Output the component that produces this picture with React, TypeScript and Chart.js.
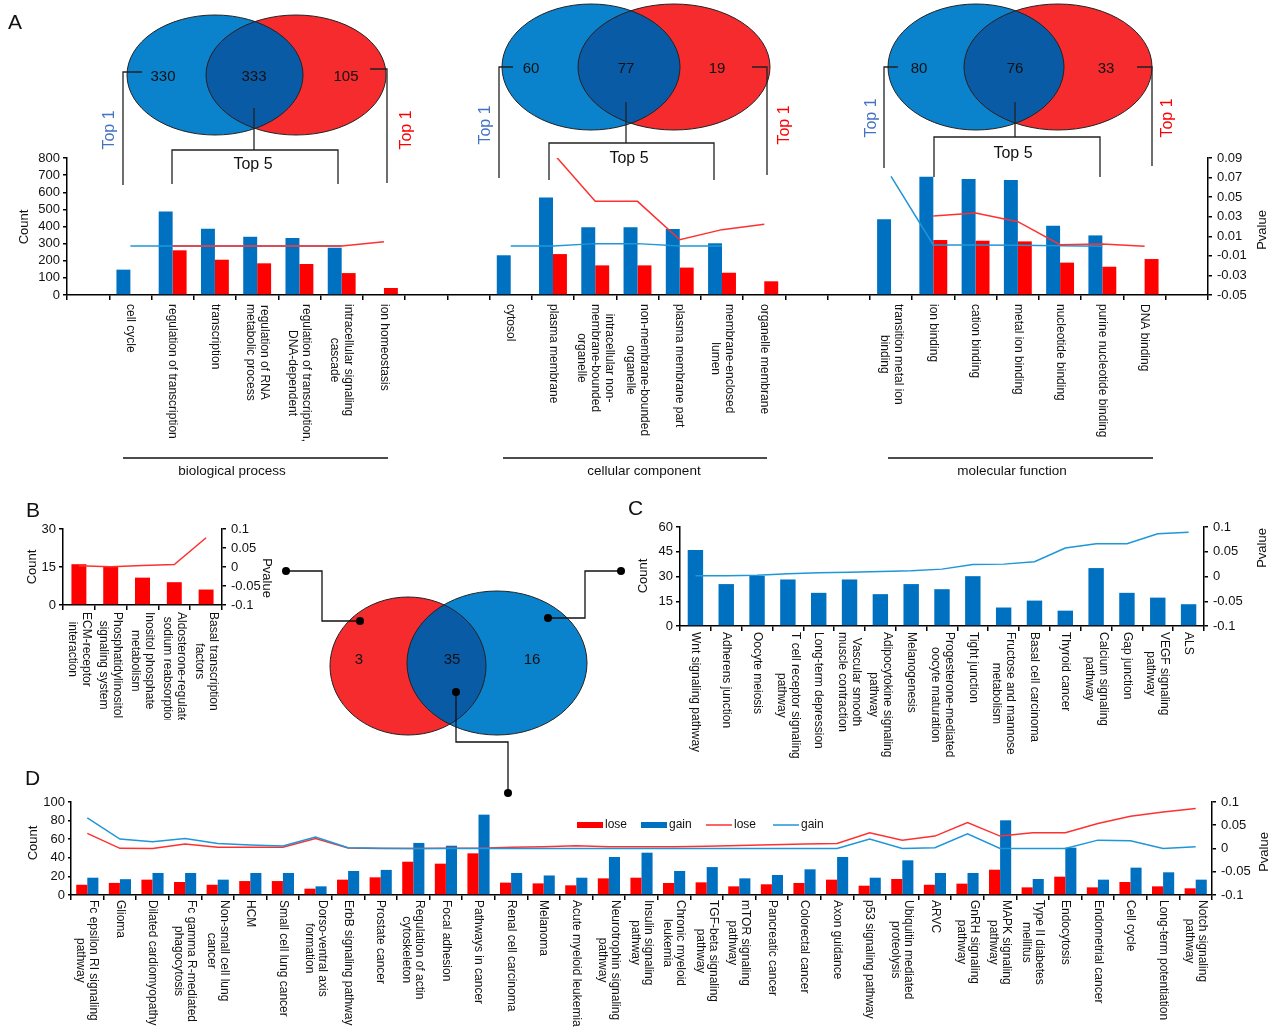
import React, { useEffect, useRef } from 'react';
import { Chart, registerables } from 'chart.js';

Chart.register(...registerables);

const FONT = '"Liberation Sans", Arial, Helvetica, sans-serif';
const BAR_BLUE = '#0070c0';
const BAR_RED = '#ff0000';
const LINE_BLUE = '#1f96d8';
const LINE_RED = '#ff3030';
const TXT = '#111';

// ---------------- Panel A (GO terms) ----------------
const aCategories: string[][] = [
  [''],
  ['cell cycle'],
  ['regulation of transcription'],
  ['transcription'],
  ['regulation of RNA', 'metabolic process'],
  ['regulation of transcription,', 'DNA-dependent'],
  ['intracellular signaling', 'cascade'],
  ['ion homeostasis'],
  [''],
  [''],
  ['cytosol'],
  ['plasma membrane'],
  ['intracellular non-', 'membrane-bounded', 'organelle'],
  ['non-membrane-bounded', 'organelle'],
  ['plasma membrane part'],
  ['membrane-enclosed', 'lumen'],
  ['organelle membrane'],
  [''],
  [''],
  ['transition metal ion', 'binding'],
  ['ion binding'],
  ['cation binding'],
  ['metal ion binding'],
  ['nucleotide binding'],
  ['purine nucleotide binding'],
  ['DNA binding'],
  [''],
];
const aGainCount = [null, 148, 488, 387, 340, 333, 276, null, null, null, 232, 570, 395, 395, 385, 302, null, null, null, 442, 691, 677, 671, 405, 348, null, null];
const aLoseCount = [null, null, 261, 206, 185, 181, 128, 41, null, null, null, 239, 173, 173, 160, 130, 80, null, null, null, 321, 317, 313, 189, 165, 210, null];
const aGainP = [null, 0.0001, 0.0001, 0.0001, 0.0001, 0.0001, 0.0001, null, null, null, 0.0001, 0.0001, 0.0025, 0.0025, 0.0001, 0.0001, null, null, null, 0.0713, 0.0011, 0.001, 0.0008, 0.0004, -0.0003, null, null];
const aLoseP = [null, null, 0.0001, 0.0001, 0.0001, 0.0001, 0.0001, 0.0044, null, null, null, 0.095, 0.0457, 0.0457, 0.0065, 0.0168, 0.0222, null, null, null, 0.0307, 0.0338, 0.0249, 0.0014, 0.0021, -0.0003, null];
const aCountAxis = [0, 800, 100];
const aPAxis = [-0.05, 0.09, 0.02];

// Venn counts
const vennBP = [330, 333, 105];
const vennCC = [60, 77, 19];
const vennMF = [80, 76, 33];
const vennKEGG = [3, 35, 16];
const sectionNames = ['biological process', 'cellular component', 'molecular function'];

// ---------------- Panel B (lose-only KEGG) ----------------
const bCategories: string[][] = [
  ['ECM-receptor', 'interaction'],
  ['Phosphatidylinositol', 'signaling system'],
  ['Inositol phosphate', 'metabolism'],
  ['Aldosterone-regulated', 'sodium reabsorption'],
  ['Basal transcription', 'factors'],
];
const bLoseCount = [16.1, 15.1, 10.8, 9.0, 6.1];
const bLoseP = [0.003, 0.0004, 0.004, 0.0066, 0.077];
const bCountAxis = [0, 30, 15];
const bPAxis = [-0.1, 0.1, 0.05];

// ---------------- Panel C (gain-only KEGG) ----------------
const cCategories: string[][] = [
  ['Wnt signaling pathway'],
  ['Adherens junction'],
  ['Oocyte meiosis'],
  ['T cell receptor signaling', 'pathway'],
  ['Long-term depression'],
  ['Vascular smooth', 'muscle contraction'],
  ['Adipocytokine signaling', 'pathway'],
  ['Melanogenesis'],
  ['Progesterone-mediated', 'oocyte maturation'],
  ['Tight junction'],
  ['Fructose and mannose', 'metabolism'],
  ['Basal cell carcinoma'],
  ['Thyroid cancer'],
  ['Calcium signaling', 'pathway'],
  ['Gap junction'],
  ['VEGF signaling', 'pathway'],
  ['ALS'],
];
const cGainCount = [46, 25.4, 30.4, 28.2, 20.1, 28.2, 19.3, 25.4, 22.3, 30.2, 11.2, 15.4, 9.3, 35.1, 20.1, 17.2, 13.2];
const cGainP = [0.0014, 0.0014, 0.0027, 0.0054, 0.0074, 0.0088, 0.01, 0.0115, 0.0149, 0.0243, 0.025, 0.0297, 0.0574, 0.0662, 0.0662, 0.0865, 0.0892];
const cCountAxis = [0, 60, 15];
const cPAxis = [-0.1, 0.1, 0.05];

// ---------------- Panel D (shared KEGG) ----------------
const dCategories: string[][] = [
  ['Fc epsilon RI signaling', 'pathway'],
  ['Glioma'],
  ['Dilated cardiomyopathy'],
  ['Fc gamma R-mediated', 'phagocytosis'],
  ['Non-small cell lung', 'cancer'],
  ['HCM'],
  ['Small cell lung cancer'],
  ['Dorso-ventral axis', 'formation'],
  ['ErbB signaling pathway'],
  ['Prostate cancer'],
  ['Regulation of actin', 'cytoskeleton'],
  ['Focal adhesion'],
  ['Pathways in cancer'],
  ['Renal cell carcinoma'],
  ['Melanoma'],
  ['Acute myeloid leukemia'],
  ['Neurotrophin signaling', 'pathway'],
  ['Insulin signaling', 'pathway'],
  ['Chronic myeloid', 'leukemia'],
  ['TGF-beta signaling', 'pathway'],
  ['mTOR signaling', 'pathway'],
  ['Pancreatic cancer'],
  ['Colorectal cancer'],
  ['Axon guidance'],
  ['p53 signaling pathway'],
  ['Ubiquitin mediated', 'proteolysis'],
  ['ARVC'],
  ['GnRH signaling', 'pathway'],
  ['MAPK signaling', 'pathway'],
  ['Type II diabetes', 'mellitus'],
  ['Endocytosis'],
  ['Endometrial cancer'],
  ['Cell cycle'],
  ['Long-term potentiation'],
  ['Notch signaling', 'pathway'],
];
const dLoseCount = [11, 13, 16.5, 14, 11, 15, 15, 6.8, 16.5, 19, 35.8, 33.7, 44.8, 13.3, 12.5, 10.4, 17.9, 18.6, 12.9, 13.6, 9.3, 11.5, 12.9, 16.5, 10, 17.2, 11, 12.2, 27.2, 8.2, 19.7, 8.2, 14, 9.3, 7.2];
const dGainCount = [18.6, 17, 23.7, 23.7, 16.5, 23.7, 23.7, 9.3, 25.8, 27, 56, 53, 86.4, 23.7, 21, 18.6, 40.9, 45.5, 25.8, 30, 17.9, 21.5, 27.6, 40.9, 18.6, 37.3, 23.7, 23.7, 80.3, 17.2, 50.9, 16.5, 29.4, 24.4, 16.5];
const dLoseP = [0.0324, 0.0004, 0.0, 0.0096, 0.0025, 0.0025, 0.0025, 0.0217, 0.001, 0.0, 0.0, 0.0003, 0.0003, 0.0025, 0.004, 0.006, 0.004, 0.004, 0.004, 0.005, 0.0067, 0.008, 0.0096, 0.011, 0.0338, 0.018, 0.0267, 0.0559, 0.0267, 0.0338, 0.0338, 0.0537, 0.0694, 0.0786, 0.0858];
const dGainP = [0.0658, 0.0203, 0.0146, 0.0217, 0.011, 0.0075, 0.0053, 0.0246, 0.0018, 0.0004, 0.0, 0.0, 0.0, 0.0, 0.0, 0.0, 0.0, 0.0, 0.0, 0.0, 0.0, 0.0, 0.0, 0.0, 0.0203, 0.0, 0.0018, 0.0317, 0.0, 0.0, 0.0, 0.018, 0.0167, 0.0, 0.004];
const dCountAxis = [0, 100, 20];
const dPAxis = [-0.1, 0.1, 0.05];
const dLegend = ['lose', 'gain', 'lose', 'gain'];

// ---------------- helpers ----------------
type Box = { left: number; top: number; width: number; height: number; padTop: number; yW: number; y1W: number; xH: number };
type Title = { text: string; x: number; y: number; rot: number };

const fmtP = (v: any) => String(Math.round(Number(v) * 100) / 100);

function yAxis(pos: 'left' | 'right', axis: number[], width: number, fmt?: (v: any) => string, tickLen = 4, pad = 3) {
  return {
    position: pos,
    min: axis[0],
    max: axis[1],
    afterFit: (s: any) => { s.width = width; },
    ticks: {
      stepSize: axis[2],
      autoSkip: false,
      color: TXT,
      font: { family: FONT, size: 13 },
      padding: pad,
      ...(fmt ? { callback: fmt } : {}),
    },
    grid: { drawOnChartArea: false, drawTicks: true, tickLength: tickLen, color: '#000', lineWidth: 1.5 },
    border: { display: true, color: '#000', width: 1.5 },
  };
}

function buildConfig(o: {
  box: Box; labels: string[][]; datasets: any[]; count: number[]; pval: number[];
  labelOffset: number; lineH: number; titles: Title[]; extra?: any; ytl?: number; ypad?: number;
}) {
  const { box } = o;
  const textPlugin = {
    id: 'customText',
    afterDraw(chart: any) {
      const ctx = chart.ctx;
      const xs = chart.scales.x;
      const area = chart.chartArea;
      ctx.save();
      ctx.fillStyle = TXT;
      ctx.font = `12px ${FONT}`;
      ctx.textAlign = 'center';
      ctx.textBaseline = 'middle';
      o.labels.forEach((lines, i) => {
        if (!lines.join('')) return;
        const x = xs.getPixelForValue(i);
        const maxW = Math.max(...lines.map((l) => ctx.measureText(l).width));
        ctx.save();
        ctx.translate(x, area.bottom + o.labelOffset);
        ctx.rotate(Math.PI / 2);
        lines.forEach((l, j) => ctx.fillText(l, maxW / 2, (j - (lines.length - 1) / 2) * o.lineH));
        ctx.restore();
      });
      ctx.font = `13px ${FONT}`;
      o.titles.forEach((t) => {
        ctx.save();
        ctx.translate(t.x - box.left, t.y - box.top);
        ctx.rotate(t.rot);
        ctx.fillText(t.text, 0, 0);
        ctx.restore();
      });
      ctx.restore();
    },
  };
  return {
    type: 'bar',
    data: { labels: o.labels.map((l) => l.join(' ')), datasets: o.datasets },
    options: {
      responsive: false,
      animation: false,
      devicePixelRatio: 1,
      layout: { padding: { top: box.padTop, bottom: 5, left: 0, right: 0 } },
      plugins: { legend: { display: false }, tooltip: { enabled: false } },
      scales: {
        x: {
          afterFit: (s: any) => { s.height = box.xH; },
          ticks: { display: false, autoSkip: false },
          grid: { offset: true, drawOnChartArea: false, drawTicks: true, tickLength: 5, color: '#000', lineWidth: 1.5 },
          border: { display: true, color: '#000', width: 1.5 },
        },
        y: yAxis('left', o.count, box.yW, undefined, o.ytl ?? 4, o.ypad ?? 3),
        y1: yAxis('right', o.pval, box.y1W, fmtP, 4, 5),
      },
    },
    plugins: [textPlugin, ...(o.extra ? [o.extra] : [])],
  };
}

function ChartCanvas({ box, build }: { box: Box; build: () => any }) {
  const ref = useRef<HTMLCanvasElement>(null);
  useEffect(() => {
    const chart = new Chart(ref.current as HTMLCanvasElement, build());
    return () => chart.destroy();
  }, []);
  return (
    <canvas
      ref={ref}
      width={box.width}
      height={box.height}
      style={{ position: 'absolute', left: box.left, top: box.top, width: box.width, height: box.height }}
    />
  );
}

const lineDs = (data: any[], color: string, order: number) => ({
  type: 'line', data, yAxisID: 'y1', borderColor: color, borderWidth: 1.5, pointRadius: 0, tension: 0, spanGaps: false, order,
});
const barDs = (data: any[], color: string, order: number, cat: number, bar: number) => ({
  type: 'bar', data, yAxisID: 'y', backgroundColor: color, borderWidth: 0, order, categoryPercentage: cat, barPercentage: bar,
});

// ---------------- boxes ----------------
const boxA: Box = { left: 0, top: 140, width: 1276, height: 310, padTop: 18, yW: 67, y1W: 68, xH: 150 };
const boxB: Box = { left: 0, top: 505, width: 285, height: 215, padTop: 24, yW: 63, y1W: 63, xH: 110 };
const boxC: Box = { left: 620, top: 505, width: 656, height: 270, padTop: 22, yW: 60, y1W: 72, xH: 144 };
const boxD: Box = { left: 0, top: 780, width: 1276, height: 253, padTop: 22, yW: 71, y1W: 64, xH: 133 };

const R90 = Math.PI / 2;

const buildA = () => buildConfig({
  box: boxA, labels: aCategories, count: aCountAxis, pval: aPAxis, labelOffset: 9, lineH: 14,
  titles: [{ text: 'Count', x: 24, y: 227, rot: -R90 }, { text: 'Pvalue', x: 1262, y: 230, rot: -R90 }],
  datasets: [
    lineDs(aLoseP, LINE_RED, 0),
    lineDs(aGainP, LINE_BLUE, 1),
    barDs(aGainCount, BAR_BLUE, 2, 0.66, 1),
    barDs(aLoseCount, BAR_RED, 3, 0.66, 1),
  ],
});

const buildB = () => buildConfig({
  box: boxB, labels: bCategories, count: bCountAxis, pval: bPAxis, labelOffset: 7, lineH: 14,
  titles: [{ text: 'Count', x: 32, y: 567, rot: -R90 }, { text: 'Pvalue', x: 267, y: 578, rot: R90 }],
  datasets: [lineDs(bLoseP, LINE_RED, 0), barDs(bLoseCount, BAR_RED, 1, 1, 0.47)],
});

const buildC = () => buildConfig({
  box: boxC, labels: cCategories, count: cCountAxis, pval: cPAxis, labelOffset: 6, lineH: 14,
  titles: [{ text: 'Count', x: 643, y: 576, rot: -R90 }, { text: 'Pvalue', x: 1262, y: 548, rot: -R90 }],
  datasets: [lineDs(cGainP, LINE_BLUE, 0), barDs(cGainCount, BAR_BLUE, 1, 1, 0.5)],
});

const legendPlugin = {
  id: 'dLegend',
  afterDraw(chart: any) {
    const ctx = chart.ctx;
    const y = 825 - boxD.top;
    ctx.save();
    ctx.font = `12px ${FONT}`;
    ctx.fillStyle = TXT;
    ctx.textBaseline = 'middle';
    ctx.textAlign = 'left';
    const items = [
      { kind: 'bar', color: BAR_RED, x: 577 },
      { kind: 'bar', color: BAR_BLUE, x: 641 },
      { kind: 'line', color: LINE_RED, x: 706 },
      { kind: 'line', color: LINE_BLUE, x: 773 },
    ];
    items.forEach((it, i) => {
      if (it.kind === 'bar') {
        ctx.fillStyle = it.color;
        ctx.fillRect(it.x, y - 3, 26, 6);
      } else {
        ctx.strokeStyle = it.color;
        ctx.lineWidth = 1.5;
        ctx.beginPath();
        ctx.moveTo(it.x, y);
        ctx.lineTo(it.x + 26, y);
        ctx.stroke();
      }
      ctx.fillStyle = TXT;
      ctx.fillText(dLegend[i], it.x + 28, y);
    });
    ctx.restore();
  },
};

const buildD = () => buildConfig({
  box: boxD, labels: dCategories, count: dCountAxis, pval: dPAxis, labelOffset: 5, lineH: 13, ytl: 3, ypad: 3,
  titles: [{ text: 'Count', x: 33, y: 843, rot: -R90 }, { text: 'Pvalue', x: 1264, y: 852, rot: -R90 }],
  datasets: [
    lineDs(dGainP, LINE_BLUE, 0),
    lineDs(dLoseP, LINE_RED, 1),
    barDs(dLoseCount, BAR_RED, 2, 0.68, 1),
    barDs(dGainCount, BAR_BLUE, 3, 0.68, 1),
  ],
  extra: legendPlugin,
});

// ---------------- Venn / annotation overlay ----------------
const V_BLUE = '#0b83cc';
const V_RED = '#f52b2e';
const V_DARK = '#0a5ba6';

function Venn(p: {
  id: string; lx: number; ly: number; lrx: number; lry: number; lc: string;
  rx: number; ry: number; rrx: number; rry: number; rc: string; nums: number[]; nx: number[]; ny: number;
}) {
  return (
    <g>
      <defs>
        <clipPath id={p.id}>
          <ellipse cx={p.lx} cy={p.ly} rx={p.lrx} ry={p.lry} />
        </clipPath>
      </defs>
      <ellipse cx={p.lx} cy={p.ly} rx={p.lrx} ry={p.lry} fill={p.lc} />
      <ellipse cx={p.rx} cy={p.ry} rx={p.rrx} ry={p.rry} fill={p.rc} />
      <ellipse cx={p.rx} cy={p.ry} rx={p.rrx} ry={p.rry} fill={V_DARK} clipPath={`url(#${p.id})`} />
      <ellipse cx={p.lx} cy={p.ly} rx={p.lrx} ry={p.lry} fill="none" stroke="#222" strokeWidth={1} />
      <ellipse cx={p.rx} cy={p.ry} rx={p.rrx} ry={p.rry} fill="none" stroke="#222" strokeWidth={1} />
      {p.nums.map((n, i) => (
        <text key={i} x={p.nx[i]} y={p.ny} fontSize={15} fontFamily={FONT} textAnchor="middle" dominantBaseline="central" fill="#111">
          {n}
        </text>
      ))}
    </g>
  );
}

function TopBrackets(p: {
  bl: [number, number, number, number]; br: [number, number, number, number]; stem: [number, number, number];
  top5: [number, number, number, number]; top5Text: [number, number]; t1b: [number, number]; t1r: [number, number];
}) {
  const st = { stroke: '#222', strokeWidth: 1.3, fill: 'none' };
  return (
    <g>
      <path d={`M ${p.bl[0]} ${p.bl[1]} L ${p.bl[2]} ${p.bl[1]} L ${p.bl[2]} ${p.bl[3]}`} {...st} />
      <path d={`M ${p.br[0]} ${p.br[1]} L ${p.br[2]} ${p.br[1]} L ${p.br[2]} ${p.br[3]}`} {...st} />
      <path d={`M ${p.stem[0]} ${p.stem[1]} L ${p.stem[0]} ${p.stem[2]}`} {...st} />
      <path d={`M ${p.top5[0]} ${p.top5[3]} L ${p.top5[0]} ${p.top5[2]} L ${p.top5[1]} ${p.top5[2]} L ${p.top5[1]} ${p.top5[3]}`} {...st} />
      <text x={p.top5Text[0]} y={p.top5Text[1]} fontSize={16} fontFamily={FONT} textAnchor="middle" dominantBaseline="central" fill="#111">Top 5</text>
      <text x={p.t1b[0]} y={p.t1b[1]} fontSize={16} fontFamily={FONT} textAnchor="middle" dominantBaseline="central" fill="#4472c4" transform={`rotate(-90 ${p.t1b[0]} ${p.t1b[1]})`}>Top 1</text>
      <text x={p.t1r[0]} y={p.t1r[1]} fontSize={16} fontFamily={FONT} textAnchor="middle" dominantBaseline="central" fill="#ff0000" transform={`rotate(-90 ${p.t1r[0]} ${p.t1r[1]})`}>Top 1</text>
    </g>
  );
}

function Overlay() {
  const ln = { stroke: '#111', strokeWidth: 1.3, fill: 'none' };
  const letter = { fontSize: 21, fontFamily: FONT, fill: '#111' };
  return (
    <svg width={1276} height={1033} style={{ position: 'absolute', left: 0, top: 0, pointerEvents: 'none' }}>
      <Venn id="v1" lx={215} ly={75} lrx={88} lry={60} lc={V_BLUE} rx={296} ry={75} rrx={90} rry={60} rc={V_RED} nums={vennBP} nx={[163, 254, 346]} ny={75} />
      <Venn id="v2" lx={591} ly={67} lrx={89} lry={63} lc={V_BLUE} rx={674} ry={67} rrx={96} rry={63} rc={V_RED} nums={vennCC} nx={[531, 626, 717]} ny={67} />
      <Venn id="v3" lx={976} ly={67} lrx={88} lry={63} lc={V_BLUE} rx={1058} ry={67} rrx={94} rry={63} rc={V_RED} nums={vennMF} nx={[919, 1015, 1106]} ny={67} />
      <TopBrackets bl={[142, 72, 123, 185]} br={[370, 69, 387, 183]} stem={[254, 108, 150]} top5={[172, 338, 150, 184]} top5Text={[253, 163]} t1b={[108, 130]} t1r={[405, 130]} />
      <TopBrackets bl={[513, 67, 499, 178]} br={[752, 67, 767, 175]} stem={[626, 102, 143]} top5={[549, 714, 143, 180]} top5Text={[629, 157]} t1b={[484, 125]} t1r={[783, 125]} />
      <TopBrackets bl={[898, 67, 884, 168]} br={[1137, 67, 1152, 166]} stem={[1015, 102, 137]} top5={[934, 1100, 137, 177]} top5Text={[1013, 152]} t1b={[870, 118]} t1r={[1166, 118]} />
      {[[123, 388, 232], [503, 767, 644], [888, 1153, 1012]].map((s, i) => (
        <g key={i}>
          <path d={`M ${s[0]} 458 L ${s[1]} 458`} {...ln} />
          <text x={s[2]} y={470} fontSize={13.5} fontFamily={FONT} textAnchor="middle" dominantBaseline="central" fill="#111">{sectionNames[i]}</text>
        </g>
      ))}
      <Venn id="v4" lx={408} ly={666} lrx={78} lry={69} lc={V_RED} rx={497} ry={663} rrx={90} rry={72} rc={V_BLUE} nums={vennKEGG} nx={[359, 452, 532]} ny={658} />
      <path d="M 286 571 L 322 571 L 322 621 L 360 621" {...ln} />
      <circle cx={286} cy={571} r={4} fill="#000" />
      <circle cx={360} cy={621} r={4} fill="#000" />
      <path d="M 621 571 L 585 571 L 585 618 L 548 618" {...ln} />
      <circle cx={621} cy={571} r={4} fill="#000" />
      <circle cx={548} cy={618} r={4} fill="#000" />
      <path d="M 456 692 L 456 742 L 508 742 L 508 793" {...ln} />
      <circle cx={456} cy={692} r={4} fill="#000" />
      <circle cx={508} cy={793} r={4} fill="#000" />
      <text x={8} y={29} {...letter}>A</text>
      <text x={26} y={517} {...letter}>B</text>
      <text x={628} y={515} {...letter}>C</text>
      <text x={25} y={785} {...letter}>D</text>
    </svg>
  );
}

export default function App() {
  return (
    <div style={{ position: 'absolute', left: 0, top: 0, width: 1276, height: 1033, background: '#fff', overflow: 'hidden' }}>
      <ChartCanvas box={boxA} build={buildA} />
      <ChartCanvas box={boxB} build={buildB} />
      <ChartCanvas box={boxC} build={buildC} />
      <ChartCanvas box={boxD} build={buildD} />
      <Overlay />
    </div>
  );
}
